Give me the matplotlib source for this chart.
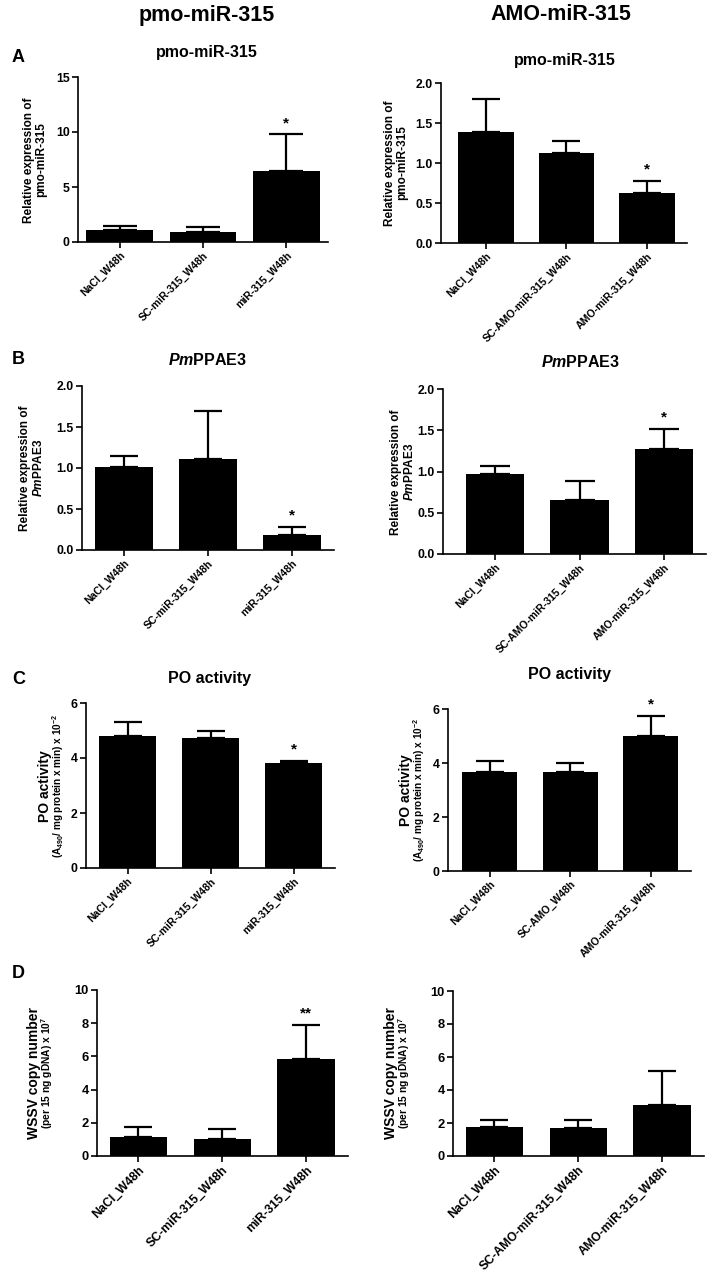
import numpy as np
import matplotlib
matplotlib.use("Agg")
import matplotlib.pyplot as plt

plt.rcParams['font.family'] = ['Liberation Sans', 'DejaVu Sans']
plt.rcParams['font.weight'] = 'bold'
plt.rcParams['mathtext.fontset'] = 'custom'
plt.rcParams['mathtext.rm'] = 'Liberation Sans:bold'
plt.rcParams['mathtext.it'] = 'Liberation Sans:italic:bold'
plt.rcParams['mathtext.bf'] = 'Liberation Sans:bold'

# group labels
groups_left = ['NaCl_W48h', 'SC-miR-315_W48h', 'miR-315_W48h']
groups_right = ['NaCl_W48h', 'SC-AMO-miR-315_W48h', 'AMO-miR-315_W48h']
groups_right_po = ['NaCl_W48h', 'SC-AMO_W48h', 'AMO-miR-315_W48h']

# means and upper error (SD)
a_left_mean = [1.09, 0.91, 6.45]
a_left_err = [0.39, 0.42, 3.34]
a_right_mean = [1.39, 1.12, 0.62]
a_right_err = [0.41, 0.15, 0.16]

b_left_mean = [1.01, 1.11, 0.18]
b_left_err = [0.14, 0.59, 0.10]
b_right_mean = [0.97, 0.65, 1.27]
b_right_err = [0.10, 0.24, 0.25]

c_left_mean = [4.81, 4.73, 3.81]
c_left_err = [0.49, 0.25, 0.09]
c_right_mean = [3.68, 3.68, 5.01]
c_right_err = [0.39, 0.31, 0.73]

d_left_mean = [1.14, 1.02, 5.86]
d_left_err = [0.59, 0.59, 2.03]
d_right_mean = [1.74, 1.70, 3.11]
d_right_err = [0.44, 0.48, 2.04]

# significance marks
a_left_sig = ['', '', '*']
a_right_sig = ['', '', '*']
b_left_sig = ['', '', '*']
b_right_sig = ['', '', '*']
c_left_sig = ['', '', '*']
c_right_sig = ['', '', '*']
d_left_sig = ['', '', '**']
d_right_sig = ['', '', '']

W, H = 714, 1276
fig = plt.figure(figsize=(W / 100, H / 100), dpi=100)


def add_ax(l, t, r, b):
    return fig.add_axes([l / W, 1 - b / H, (r - l) / W, (b - t) / H])


def ftext(x, y, s, **kw):
    fig.text(x / W, 1 - y / H, s, **kw)


def bar_panel(ax, labels, mean, err, sig, yticks, fmt, width, xlim,
              xfs=7.6, yfs=8.8):
    x = np.arange(len(labels))
    ax.bar(x, mean, width=width, color='black', zorder=2)
    # cap length = half bar width, in points
    ax_w_px = ax.get_position().width * W
    cap_pt = width * 0.25 * ax_w_px / (xlim[1] - xlim[0]) * 0.72
    ax.errorbar(x, mean, yerr=[np.zeros(len(mean)), err], fmt='none',
                ecolor='black', elinewidth=1.6, capsize=cap_pt,
                capthick=1.6, zorder=3)
    for xi, m, e, s in zip(x, mean, err, sig):
        if s:
            ax.annotate(s, (xi, m + e), xytext=(0, 3), textcoords='offset points',
                        ha='center', va='bottom', fontsize=11)
    ax.set_xlim(*xlim)
    ax.set_ylim(yticks[0], yticks[-1])
    ax.set_yticks(yticks)
    ax.set_yticklabels([fmt.format(v) for v in yticks], fontsize=yfs)
    ax.set_xticks(x)
    ax.set_xticklabels(labels, rotation=45, ha='right', rotation_mode='anchor',
                       fontsize=xfs)
    for side in ['top', 'right']:
        ax.spines[side].set_visible(False)
    for side in ['left', 'bottom']:
        ax.spines[side].set_linewidth(1.2)
    ax.tick_params(axis='both', direction='out', length=4, width=1.2, pad=2)


# Row A
ax = add_ax(78, 77, 328, 242)
bar_panel(ax, groups_left, a_left_mean, a_left_err, a_left_sig,
          [0, 5, 10, 15], '{:.0f}', 0.8, (-0.5, 2.5))
ax = add_ax(441, 83, 687, 243)
bar_panel(ax, groups_right, a_right_mean, a_right_err, a_right_sig,
          [0, 0.5, 1.0, 1.5, 2.0], '{:.1f}', 0.69, (-0.56, 2.5))

# Row B
ax = add_ax(82, 386, 334, 550)
bar_panel(ax, groups_left, b_left_mean, b_left_err, b_left_sig,
          [0, 0.5, 1.0, 1.5, 2.0], '{:.1f}', 0.69, (-0.5, 2.5))
ax = add_ax(443, 389, 706, 554)
bar_panel(ax, groups_right, b_right_mean, b_right_err, b_right_sig,
          [0, 0.5, 1.0, 1.5, 2.0], '{:.1f}', 0.69, (-0.62, 2.5))

# Row C
ax = add_ax(86, 703, 335, 868)
bar_panel(ax, groups_left, c_left_mean, c_left_err, c_left_sig,
          [0, 2, 4, 6], '{:.0f}', 0.69, (-0.5, 2.5))
ax = add_ax(448, 709, 691, 871)
bar_panel(ax, groups_right_po, c_right_mean, c_right_err, c_right_sig,
          [0, 2, 4, 6], '{:.0f}', 0.68, (-0.52, 2.5))

# Row D
ax = add_ax(97, 990, 348, 1156)
bar_panel(ax, groups_left, d_left_mean, d_left_err, d_left_sig,
          [0, 2, 4, 6, 8, 10], '{:.0f}', 0.68, (-0.49, 2.5), xfs=8.8, yfs=9.3)
ax = add_ax(453, 991, 704, 1156)
bar_panel(ax, groups_right, d_right_mean, d_right_err, d_right_sig,
          [0, 2, 4, 6, 8, 10], '{:.0f}', 0.68, (-0.49, 2.5), xfs=8.8, yfs=9.3)

# column headings
ftext(207, 15, 'pmo-miR-315', ha='center', va='center', fontsize=15.5)
ftext(561, 15, 'AMO-miR-315', ha='center', va='center', fontsize=15.5)

# panel letters
for letter, y in zip(['A', 'B', 'C', 'D'], [58, 360, 679, 973]):
    ftext(12, y, letter, ha='left', va='center', fontsize=13)

# panel titles
ftext(207, 53, 'pmo-miR-315', ha='center', va='center', fontsize=11.5)
ftext(565, 60, 'pmo-miR-315', ha='center', va='center', fontsize=11.5)
ftext(207, 360, r'$\mathit{Pm}$PPAE3', ha='center', va='center', fontsize=11.5)
ftext(580, 362, r'$\mathit{Pm}$PPAE3', ha='center', va='center', fontsize=11.5)
ftext(210, 679, 'PO activity', ha='center', va='center', fontsize=11.5)
ftext(570, 674, 'PO activity', ha='center', va='center', fontsize=11.5)

# y labels
ftext(35, 160, 'Relative expression of\npmo-miR-315', rotation=90,
      ha='center', va='center', fontsize=8.5, linespacing=1.1)
ftext(396, 163, 'Relative expression of\npmo-miR-315', rotation=90,
      ha='center', va='center', fontsize=8.5, linespacing=1.1)
ftext(32, 468, 'Relative expression of\n' + r'$\mathit{Pm}$PPAE3', rotation=90,
      ha='center', va='center', fontsize=8.5, linespacing=1.1)
ftext(403, 472, 'Relative expression of\n' + r'$\mathit{Pm}$PPAE3', rotation=90,
      ha='center', va='center', fontsize=8.5, linespacing=1.1)

po_sub = r'(A$_{490}$/ mg protein x min) x 10$^{-2}$'
ftext(45, 786, 'PO activity', rotation=90, ha='center', va='center', fontsize=10)
ftext(58, 786, po_sub, rotation=90, ha='center', va='center', fontsize=7.2)
ftext(406, 790, 'PO activity', rotation=90, ha='center', va='center', fontsize=10)
ftext(419, 790, po_sub, rotation=90, ha='center', va='center', fontsize=7.2)

wssv_sub = r'(per 15 ng gDNA) x 10$^{7}$'
ftext(34, 1073, 'WSSV copy number', rotation=90, ha='center', va='center', fontsize=10)
ftext(47, 1073, wssv_sub, rotation=90, ha='center', va='center', fontsize=7.4)
ftext(391, 1073, 'WSSV copy number', rotation=90, ha='center', va='center', fontsize=10)
ftext(404, 1073, wssv_sub, rotation=90, ha='center', va='center', fontsize=7.4)

fig.savefig('out.png', dpi=100)
